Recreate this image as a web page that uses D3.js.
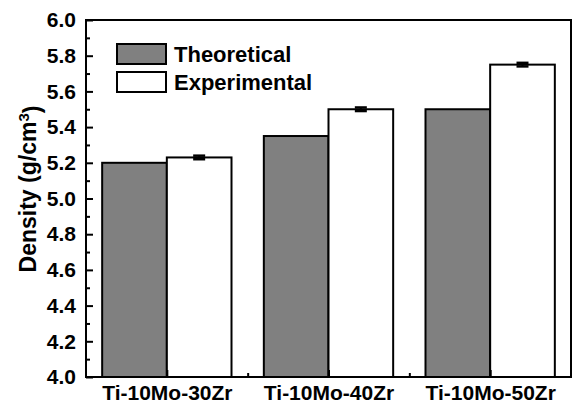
<!DOCTYPE html>
<html>
<head>
<meta charset="utf-8">
<script src="https://cdn.jsdelivr.net/npm/d3@7"></script>
<style>
  body { margin: 0; background: #fff; }
  text { font-family: "Liberation Sans", Arial, sans-serif; font-weight: bold; fill: #000; }
</style>
</head>
<body>
<script>
// alloys on the x axis
var alloys = ["Ti-10Mo-30Zr", "Ti-10Mo-40Zr", "Ti-10Mo-50Zr"];
// densities in g/cm3
var theoretical = [5.20, 5.35, 5.50];
var experimental = [5.23, 5.50, 5.75];
var expError = [0.01, 0.01, 0.01];
// legend names
var seriesNames = ["Theoretical", "Experimental"];
// y tick values
var yTicks = [4.0, 4.2, 4.4, 4.6, 4.8, 5.0, 5.2, 5.4, 5.6, 5.8, 6.0];

var totalWidth = 576, totalHeight = 405;
var margin = {top: 20, right: 5, bottom: 28, left: 86};
var width = totalWidth - margin.left - margin.right;
var height = totalHeight - margin.top - margin.bottom;

var svg = d3.select("body").append("svg")
    .attr("width", totalWidth)
    .attr("height", totalHeight);

var g = svg.append("g")
    .attr("transform", "translate(" + margin.left + "," + margin.top + ")");

// x is a linear scale so the groups sit at 1, 2, 3
var xScale = d3.scaleLinear().domain([0.5, 3.5]).range([0, width]);
var yScale = d3.scaleLinear().domain([4.0, 6.0]).range([height, 0]);
var barW = 0.4;

// theoretical bars (left of the centre)
g.selectAll(".theo")
    .data(theoretical)
    .enter()
    .append("rect")
    .attr("class", "theo")
    .attr("x", function(d, i) { return xScale(i + 1 - barW); })
    .attr("y", function(d) { return yScale(d); })
    .attr("width", xScale(barW) - xScale(0))
    .attr("height", function(d) { return height - yScale(d); })
    .style("fill", "#808080")
    .style("stroke", "#000")
    .style("stroke-width", 2);

// experimental bars (right of the centre)
g.selectAll(".exp")
    .data(experimental)
    .enter()
    .append("rect")
    .attr("class", "exp")
    .attr("x", function(d, i) { return xScale(i + 1); })
    .attr("y", function(d) { return yScale(d); })
    .attr("width", xScale(barW) - xScale(0))
    .attr("height", function(d) { return height - yScale(d); })
    .style("fill", "#fff")
    .style("stroke", "#000")
    .style("stroke-width", 2);

// error bars
var err = g.selectAll(".err")
    .data(experimental)
    .enter()
    .append("g")
    .attr("class", "err");

err.append("line")
    .attr("x1", function(d, i) { return xScale(i + 1 + barW / 2); })
    .attr("x2", function(d, i) { return xScale(i + 1 + barW / 2); })
    .attr("y1", function(d, i) { return yScale(d + expError[i]); })
    .attr("y2", function(d, i) { return yScale(d - expError[i]); })
    .style("stroke", "#000").style("stroke-width", 2);

[1, -1].forEach(function(s) {
  err.append("line")
      .attr("x1", function(d, i) { return xScale(i + 1 + barW / 2) - 6; })
      .attr("x2", function(d, i) { return xScale(i + 1 + barW / 2) + 6; })
      .attr("y1", function(d, i) { return yScale(d + s * expError[i]); })
      .attr("y2", function(d, i) { return yScale(d + s * expError[i]); })
      .style("stroke", "#000").style("stroke-width", 2.5);
});

// minor y ticks
g.append("g")
    .call(d3.axisLeft(yScale).tickValues(d3.range(4.1, 6.0, 0.2)).tickSize(-4).tickFormat(""))
    .call(function(a) { a.select(".domain").remove(); })
    .selectAll("line").style("stroke-width", 2);

// y axis
var yAxis = g.append("g")
    .call(d3.axisLeft(yScale).tickValues(yTicks).tickSize(-7).tickPadding(10).tickFormat(d3.format(".1f")));
yAxis.select(".domain").remove();
yAxis.selectAll("line").style("stroke-width", 2);
yAxis.selectAll("text").style("font-size", "21px").style("font-family", null);

// minor x ticks
g.append("g")
    .attr("transform", "translate(0," + height + ")")
    .call(d3.axisBottom(xScale).tickValues([1.5, 2.5]).tickSize(-4).tickFormat(""))
    .call(function(a) { a.select(".domain").remove(); })
    .selectAll("line").style("stroke-width", 2);

// x axis
var xAxis = g.append("g")
    .attr("transform", "translate(0," + height + ")")
    .call(d3.axisBottom(xScale).tickValues([1, 2, 3]).tickSize(-7).tickPadding(8)
      .tickFormat(function(d) { return alloys[d - 1]; }));
xAxis.select(".domain").remove();
xAxis.selectAll("line").style("stroke-width", 2);
xAxis.selectAll("text").style("font-size", "21px").style("font-family", null);

// frame
g.append("rect")
    .attr("width", width)
    .attr("height", height)
    .style("fill", "none")
    .style("stroke", "#000")
    .style("stroke-width", 2);

// y label
var yLab = svg.append("text")
    .attr("transform", "translate(36," + (margin.top + 169) + ") rotate(-90)")
    .style("text-anchor", "middle")
    .style("font-size", "23px");
yLab.append("tspan").text("Density (g/cm");
yLab.append("tspan").attr("dy", "-0.45em").style("font-size", "15px").text("3");
yLab.append("tspan").attr("dy", "0.45em").text(")");

// legend
var legend = g.selectAll(".legend")
    .data(seriesNames)
    .enter()
    .append("g")
    .attr("class", "legend")
    .attr("transform", function(d, i) { return "translate(31," + (24 + i * 28) + ")"; });

legend.append("rect")
    .attr("width", 49)
    .attr("height", 20)
    .style("fill", function(d, i) { return i == 0 ? "#808080" : "#fff"; })
    .style("stroke", "#000")
    .style("stroke-width", 2);

legend.append("text")
    .attr("x", 57)
    .attr("y", 18)
    .style("font-size", "22px")
    .text(function(d) { return d; });
</script>
</body>
</html>
